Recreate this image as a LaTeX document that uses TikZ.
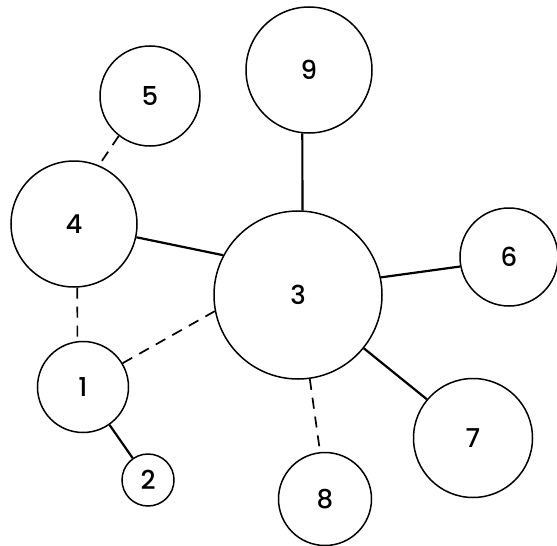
\documentclass[tikz,border=0pt]{standalone}
\usepackage{fontspec}
\setmainfont{Poppins}[BoldFont={Poppins Medium}]
\begin{document}
\begin{tikzpicture}[x=1pt,y=-1pt,
  vert/.style={circle,draw,line width=1.5pt,inner sep=0pt,font=\fontsize{26}{26}\selectfont\bfseries},
  solidedge/.style={line width=2.2pt},
  dashedge/.style={line width=1.7pt,dash pattern=on 11pt off 8pt}]
\useasboundingbox (0,0) rectangle (557,546);
\node[vert,minimum size=126pt] (c9) at (309,70) {9};
\node[vert,minimum size=100pt] (c5) at (150,96) {5};
\node[vert,minimum size=126pt] (c4) at (74,224) {4};
\node[vert,minimum size=168pt] (c3) at (298,295) {3};
\node[vert,minimum size=98pt] (c6) at (509,257) {6};
\node[vert,minimum size=91pt] (c1) at (83,387) {1};
\node[vert,minimum size=52pt] (c2) at (148,480) {2};
\node[vert,minimum size=119pt] (c7) at (473,438) {7};
\node[vert,minimum size=93pt] (c8) at (325,499) {8};
\draw[dashedge] (c5.232) -- (c4.67);
\draw[solidedge] (c4.-12) -- (c3.152);
\draw[dashedge] (c4.-87) -- (c1.97);
\draw[dashedge] (c1.31) -- (c3.191);
\draw[solidedge] (c1.-55) -- (c2.125);
\draw[solidedge] (c9.-96) -- (c3.87);
\draw[solidedge] (c3.12) -- (c6.191);
\draw[solidedge] (c3.-39) -- (c7.140);
\draw[dashedge] (c3.-82) -- (c8.96);
\end{tikzpicture}
\end{document}
